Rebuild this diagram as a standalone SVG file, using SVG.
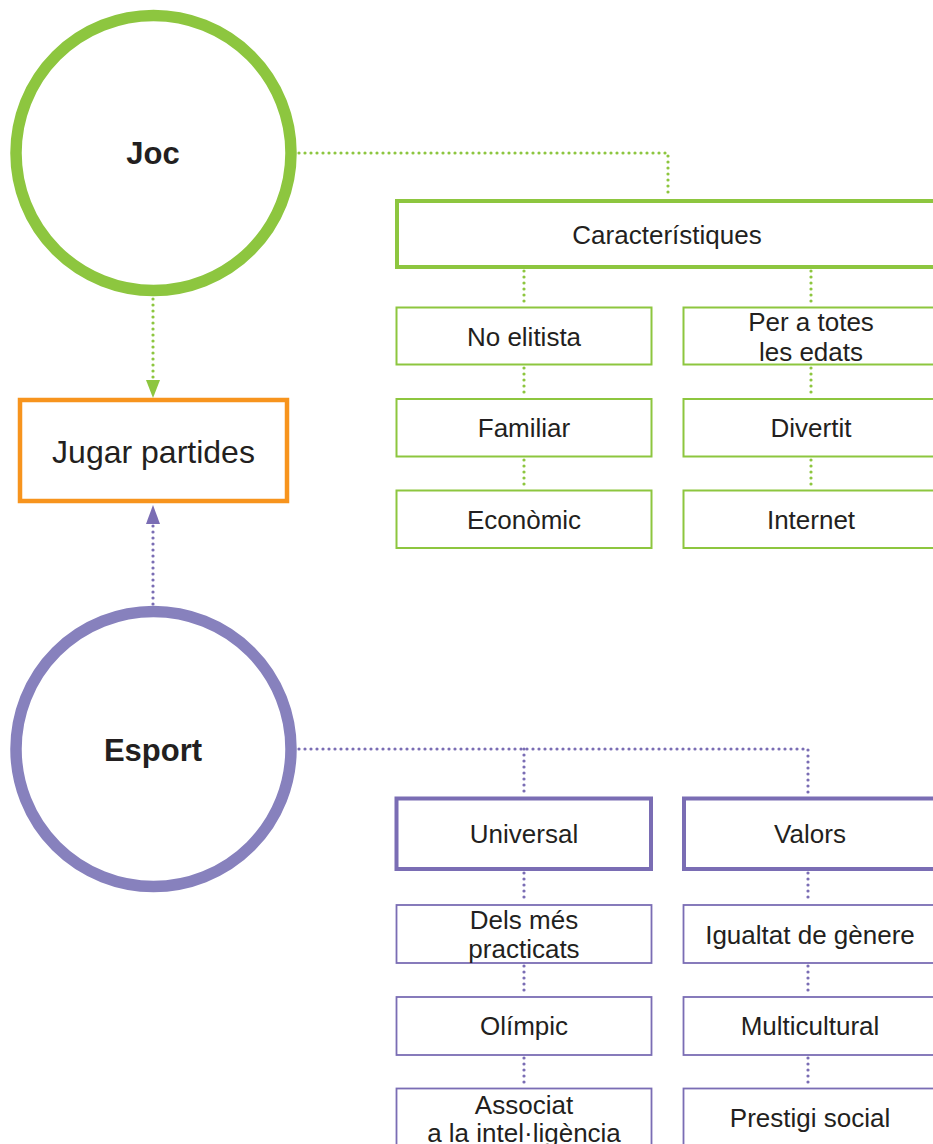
<svg xmlns="http://www.w3.org/2000/svg" width="933" height="1144" viewBox="0 0 933 1144">
<style>
  text { font-family: "Liberation Sans", Arial, sans-serif; fill: #231f20; text-anchor: middle; }
  .t { font-size: 26px; }
  .big { font-size: 32px; }
  .bold { font-size: 31px; font-weight: bold; }
  .gc { fill: #fff; stroke: #8dc63f; stroke-width: 11.5; }
  .pc { fill: #fff; stroke: #8781bd; stroke-width: 11.5; }
  .gthick { fill: #fff; stroke: #8dc63f; stroke-width: 4; }
  .gthin { fill: #fff; stroke: #8dc63f; stroke-width: 2; }
  .pthick { fill: #fff; stroke: #7a6db4; stroke-width: 4; }
  .pthin { fill: #fff; stroke: #7a6db4; stroke-width: 1.8; }
  .orange { fill: #fff; stroke: #f7941d; stroke-width: 4.5; }
  .gd { fill: none; stroke: #8dc63f; stroke-width: 3.2; stroke-dasharray: 0 6; stroke-linecap: round; }
  .pd { fill: none; stroke: #7a6db4; stroke-width: 3.2; stroke-dasharray: 0 6; stroke-linecap: round; }
</style>
<defs>
  <marker id="ag" markerUnits="userSpaceOnUse" markerWidth="18" markerHeight="14" viewBox="0 0 18 14" refX="0" refY="7" orient="auto">
    <path d="M0,0 L18,7 L0,14 z" fill="#8dc63f"/>
  </marker>
  <marker id="ap" markerUnits="userSpaceOnUse" markerWidth="19" markerHeight="14" viewBox="0 0 19 14" refX="0" refY="7" orient="auto">
    <path d="M0,0 L19,7 L0,14 z" fill="#7a6db4"/>
  </marker>
</defs>
<g id="connectors">
  <path class="gd" d="M299,153 H668 V197"/>
  <line class="gd" x1="524" y1="271" x2="524" y2="305"/>
  <line class="gd" x1="811" y1="271" x2="811" y2="305"/>
  <line class="gd" x1="524" y1="368" x2="524" y2="397"/>
  <line class="gd" x1="811" y1="368" x2="811" y2="397"/>
  <line class="gd" x1="524" y1="460" x2="524" y2="488"/>
  <line class="gd" x1="811" y1="460" x2="811" y2="488"/>
  <line class="gd" x1="153" y1="299" x2="153" y2="380" marker-end="url(#ag)"/>
  <line class="pd" x1="153" y1="604" x2="153" y2="524" marker-end="url(#ap)"/>
  <path class="pd" d="M299,749 H808 V795"/>
  <line class="pd" x1="524" y1="749" x2="524" y2="795"/>
  <line class="pd" x1="524" y1="873" x2="524" y2="903"/>
  <line class="pd" x1="808" y1="873" x2="808" y2="903"/>
  <line class="pd" x1="524" y1="966" x2="524" y2="995"/>
  <line class="pd" x1="808" y1="966" x2="808" y2="995"/>
  <line class="pd" x1="524" y1="1058" x2="524" y2="1086"/>
  <line class="pd" x1="808" y1="1058" x2="808" y2="1086"/>
</g>
<g id="joc">
  <circle class="gc" cx="153.5" cy="153" r="137.5"/>
  <text class="bold" x="153" y="164">Joc</text>
</g>
<g id="jugar-partides">
  <rect class="orange" x="20" y="400" width="267" height="101"/>
  <text class="big" x="153.5" y="462.5">Jugar partides</text>
</g>
<g id="esport">
  <circle class="pc" cx="153.5" cy="749" r="137.5"/>
  <text class="bold" x="153" y="761">Esport</text>
</g>
<g id="caracteristiques">
  <rect class="gthick" x="397" y="201" width="540" height="66"/>
  <text class="t" x="667" y="243.5">Característiques</text>
</g>
<g id="no-elitista">
  <rect class="gthin" x="396.5" y="307.5" width="255" height="57"/>
  <text class="t" x="524" y="345.5">No elitista</text>
</g>
<g id="familiar">
  <rect class="gthin" x="396.5" y="399" width="255" height="57.5"/>
  <text class="t" x="524" y="437">Familiar</text>
</g>
<g id="economic">
  <rect class="gthin" x="396.5" y="490.5" width="255" height="57.5"/>
  <text class="t" x="524" y="528.5">Econòmic</text>
</g>
<g id="per-a-totes-les-edats">
  <rect class="gthin" x="683.5" y="307.5" width="255" height="57"/>
  <text class="t" x="811" y="331">Per a totes</text>
  <text class="t" x="811" y="361">les edats</text>
</g>
<g id="divertit">
  <rect class="gthin" x="683.5" y="399" width="255" height="57.5"/>
  <text class="t" x="811" y="437">Divertit</text>
</g>
<g id="internet">
  <rect class="gthin" x="683.5" y="490.5" width="255" height="57.5"/>
  <text class="t" x="811" y="528.5">Internet</text>
</g>
<g id="universal">
  <rect class="pthick" x="396.5" y="798.5" width="254.5" height="70.5"/>
  <text class="t" x="524" y="843">Universal</text>
</g>
<g id="valors">
  <rect class="pthick" x="684" y="798.5" width="254.5" height="70.5"/>
  <text class="t" x="810" y="843">Valors</text>
</g>
<g id="dels-mes-practicats">
  <rect class="pthin" x="396.5" y="905" width="255" height="58"/>
  <text class="t" x="524" y="929">Dels més</text>
  <text class="t" x="524" y="958">practicats</text>
</g>
<g id="olimpic">
  <rect class="pthin" x="396.5" y="997" width="255" height="58"/>
  <text class="t" x="524" y="1035">Olímpic</text>
</g>
<g id="associat">
  <rect class="pthin" x="396.5" y="1088.5" width="255" height="58"/>
  <text class="t" x="524" y="1114">Associat</text>
  <text class="t" x="524" y="1142">a la intel·ligència</text>
</g>
<g id="igualtat-de-genere">
  <rect class="pthin" x="683.5" y="905" width="255" height="58"/>
  <text class="t" x="810" y="944">Igualtat de gènere</text>
</g>
<g id="multicultural">
  <rect class="pthin" x="683.5" y="997" width="255" height="58"/>
  <text class="t" x="810" y="1035">Multicultural</text>
</g>
<g id="prestigi-social">
  <rect class="pthin" x="683.5" y="1088.5" width="255" height="58"/>
  <text class="t" x="810" y="1127">Prestigi social</text>
</g>
</svg>
